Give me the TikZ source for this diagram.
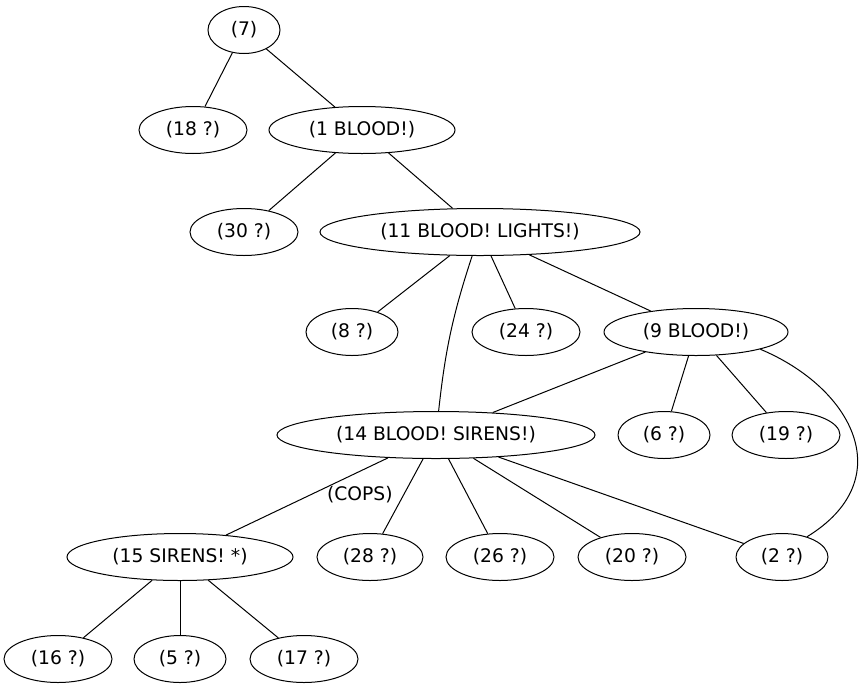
\documentclass[tikz,border=0pt]{standalone}
\usepackage{fontspec}
\setmainfont{DejaVu Sans}
\usepackage{tikz}
\usetikzlibrary{shapes.geometric}

\tikzset{
  gnode/.style={draw, ellipse, minimum height=47, inner sep=0pt, font=\fontsize{18.7}{22}\selectfont},
  glabel/.style={font=\fontsize{18.7}{22}\selectfont}
}

\begin{document}
\begin{tikzpicture}[x=1pt,y=-1pt,line width=1pt]
\useasboundingbox (0,0) rectangle (866,691);

% top levels
\node[gnode, minimum width=72] (n7) at (244,30) {(7)};
\node[gnode, minimum width=108] (n18) at (193,130) {(18 ?)};
\node[gnode, minimum width=186] (n1) at (362,130) {(1 BLOOD!)};
\node[gnode, minimum width=108] (n30) at (244,232) {(30 ?)};
\node[gnode, minimum width=320] (n11) at (480,232) {(11 BLOOD! LIGHTS!)};

% middle
\node[gnode, minimum width=92] (n8) at (352,332) {(8 ?)};
\node[gnode, minimum width=108] (n24) at (526,332) {(24 ?)};
\node[gnode, minimum width=184] (n9) at (696,332) {(9 BLOOD!)};
\node[gnode, minimum width=318] (n14) at (436,435) {(14 BLOOD! SIRENS!)};
\node[gnode, minimum width=92] (n6) at (664,435) {(6 ?)};
\node[gnode, minimum width=108] (n19) at (786,435) {(19 ?)};

% bottom
\node[gnode, minimum width=226] (n15) at (180,557) {(15 SIRENS! *)};
\node[gnode, minimum width=106] (n28) at (370,557) {(28 ?)};
\node[gnode, minimum width=108] (n26) at (500,557) {(26 ?)};
\node[gnode, minimum width=108] (n20) at (632,557) {(20 ?)};
\node[gnode, minimum width=92] (n2) at (782,557) {(2 ?)};
\node[gnode, minimum width=108] (n16) at (58,659) {(16 ?)};
\node[gnode, minimum width=92] (n5) at (180,659) {(5 ?)};
\node[gnode, minimum width=108] (n17) at (304,659) {(17 ?)};

\draw (n7) -- (n18);
\draw (n7) -- (n1);
\draw (n1) -- (n30);
\draw (n1) -- (n11);
\draw (n11) -- (n8);
\draw (n11) -- (n24);
\draw (n11) -- (n9);
\draw (n11) to[bend right=6] (n14);
\draw (n9) -- (n14);
\draw (n9) -- (n6);
\draw (n9) -- (n19);
\draw (n9.-15) .. controls +(93,39) and +(93,-57) .. (n2.39);
\draw (n14) -- node[glabel, pos=0.48, anchor=west, xshift=13] (cops) {(COPS)} (n15);
\draw (n14) -- (n28);
\draw (n14) -- (n26);
\draw (n14) -- (n20);
\draw (n14) -- (n2);
\draw (n15) -- (n16);
\draw (n15) -- (n5);
\draw (n15) -- (n17);

\end{tikzpicture}
\end{document}
